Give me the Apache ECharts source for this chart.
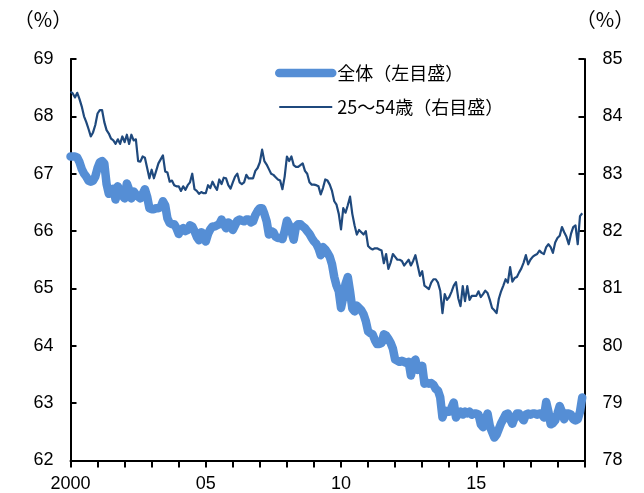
<!DOCTYPE html>
<html>
<head>
<meta charset="utf-8">
<script src="https://cdn.jsdelivr.net/npm/echarts@6/dist/echarts.min.js"></script>
<style>
  html, body { margin: 0; padding: 0; background: #fff; }
  #chart { width: 644px; height: 493px; }
</style>
</head>
<body>
<div id="chart"></div>
<script>
// Monthly series, January 2000 through December 2018 (one row per year)
const startYear = 2000;

// 全体 (left scale, %)
const overall = [
  67.30, 67.30, 67.30, 67.28, 67.20, 67.08, 67.00, 66.95, 66.88, 66.86, 66.88, 66.95,
  67.10, 67.20, 67.22, 67.18, 66.82, 66.65, 66.70, 66.74, 66.55, 66.78, 66.70, 66.62,
  66.57, 66.83, 66.72, 66.57, 66.69, 66.64, 66.60, 66.57, 66.65, 66.73, 66.60, 66.40,
  66.38, 66.38, 66.40, 66.40, 66.42, 66.52, 66.45, 66.22, 66.14, 66.12, 66.12, 66.05,
  65.95, 66.02, 66.05, 66.00, 66.02, 66.10, 66.08, 66.00, 65.90, 65.84, 65.98, 65.95,
  65.82, 65.95, 66.03, 66.08, 66.08, 66.10, 66.12, 66.20, 66.12, 66.05, 66.15, 66.12,
  66.02, 66.10, 66.18, 66.20, 66.18, 66.17, 66.20, 66.20, 66.15, 66.17, 66.28, 66.35,
  66.40, 66.40, 66.30, 66.17, 65.94, 66.00, 65.98, 65.90, 65.88, 65.88, 65.86, 66.00,
  66.18, 66.10, 66.00, 65.85, 66.08, 66.12, 66.12, 66.08, 66.05, 66.00, 65.95, 65.88,
  65.82, 65.78, 65.70, 65.58, 65.72, 65.68, 65.62, 65.55, 65.42, 65.20, 65.05, 64.95,
  64.66, 64.85, 65.08, 65.20, 64.95, 64.65, 64.60, 64.70, 64.66, 64.62, 64.55, 64.43,
  64.25, 64.22, 64.20, 64.10, 64.03, 64.03, 64.05, 64.20, 64.18, 64.12, 64.05, 63.95,
  63.76, 63.74, 63.72, 63.74, 63.72, 63.70, 63.72, 63.48, 63.70, 63.76, 63.58, 63.62,
  63.65, 63.34, 63.36, 63.34, 63.35, 63.32, 63.25, 63.22, 63.10, 62.75, 62.87, 62.85,
  62.85, 62.92, 63.01, 62.75, 62.82, 62.85, 62.80, 62.85, 62.82, 62.85, 62.80, 62.82,
  62.82, 62.80, 62.63, 62.58, 62.70, 62.82, 62.60, 62.50, 62.40, 62.45, 62.55, 62.65,
  62.72, 62.80, 62.82, 62.72, 62.64, 62.75, 62.82, 62.82, 62.75, 62.70, 62.80, 62.82,
  62.80, 62.82, 62.82, 62.80, 62.82, 62.82, 62.75, 63.02, 62.85, 62.63, 62.65, 62.70,
  62.82, 62.95, 62.85, 62.72, 62.82, 62.82, 62.80, 62.72, 62.70, 62.72, 62.85, 63.10
];

// 25～54歳 (right scale, %)
const prime = [
  84.43, 84.40, 84.33, 84.41, 84.30, 84.17, 84.00, 83.90, 83.78, 83.65, 83.72, 83.85,
  84.05, 84.11, 84.11, 83.90, 83.76, 83.70, 83.61, 83.58, 83.52, 83.60, 83.52, 83.65,
  83.55, 83.68, 83.52, 83.68, 83.58, 83.60, 83.22, 83.21, 83.30, 83.28, 83.10, 82.92,
  83.07, 82.92, 83.05, 83.18, 83.25, 83.32, 83.04, 83.02, 82.86, 82.88, 82.80, 82.78,
  82.78, 82.70, 82.78, 82.72, 82.80, 82.85, 83.00, 82.73, 82.70, 82.65, 82.68, 82.66,
  82.66, 82.80, 82.75, 82.86, 82.78, 82.72, 82.90, 82.82, 82.93, 82.92, 82.80, 82.74,
  82.85, 82.95, 83.00, 82.85, 82.82, 82.85, 82.98, 82.92, 82.92, 82.92, 83.05, 83.10,
  83.20, 83.42, 83.22, 83.16, 83.08, 83.00, 82.98, 82.94, 82.90, 82.88, 82.73, 82.95,
  83.30, 83.22, 83.30, 83.15, 83.12, 83.12, 83.15, 83.18, 83.05, 83.00, 82.85, 82.81,
  82.81, 82.80, 82.78, 82.64, 82.75, 82.90, 82.88, 82.81, 82.70, 82.52, 82.46, 82.30,
  82.03, 82.40, 82.32, 82.45, 82.60, 82.30, 82.10, 81.94, 82.02, 81.98, 81.94, 82.00,
  81.74, 81.70, 81.68, 81.70, 81.70, 81.68, 81.66, 81.44, 81.60, 81.34, 81.45, 81.60,
  81.55, 81.50, 81.50, 81.48, 81.40, 81.45, 81.50, 81.40, 81.48, 81.58, 81.40, 81.22,
  81.30, 81.05, 81.02, 80.99, 81.10, 81.16, 81.16, 81.10, 80.96, 80.57, 80.90, 80.80,
  80.85, 80.94, 81.05, 81.11, 80.83, 80.69, 81.04, 80.78, 81.04, 80.80, 80.87, 80.87,
  80.87, 80.95, 80.85, 80.90, 80.96, 80.92, 80.80, 80.66, 80.62, 80.57, 80.82, 80.95,
  81.05, 81.16, 81.10, 81.37, 81.12, 81.18, 81.20, 81.28, 81.35, 81.45, 81.58, 81.42,
  81.50, 81.55, 81.58, 81.60, 81.66, 81.62, 81.60, 81.72, 81.77, 81.72, 81.62, 81.80,
  81.88, 81.92, 82.07, 81.98, 81.90, 81.77, 81.95, 82.07, 82.10, 81.77, 82.26, 82.31
];

const seriesNames = ['全体（左目盛）', '25～54歳（右目盛）'];
const unitLabel = '（%）';
const leftTicks = { min: 62, max: 69, step: 1 };
const rightTicks = { min: 78, max: 85, step: 1 };
const yearRange = { min: 2000, max: 2019, step: 1 };

const toPoints = arr => arr.map((v, i) => [startYear + i / 12, v]);

const digitFont = '"Liberation Sans", Arial, sans-serif';
const cjkFont = '"Noto Sans CJK JP", "Liberation Sans", sans-serif';
const lightBlue = '#558ED5';
const navy = '#1F497D';
const noMarker = { color: 'rgba(0,0,0,0)', borderWidth: 0 };

const chart = echarts.init(document.getElementById('chart'), null, { renderer: 'canvas' });

chart.setOption({
  animation: false,
  backgroundColor: '#fff',
  grid: { left: 70.5, right: 59.5, top: 59, bottom: 32.5, containLabel: false, outerBoundsMode: 'none' },
  legend: {
    orient: 'vertical',
    left: 275,
    top: 63,
    padding: 0,
    itemWidth: 53,
    itemHeight: 14,
    itemGap: 14,
    textStyle: { fontFamily: cjkFont, fontSize: 18, color: '#000', lineHeight: 20 },
    data: [
      { name: seriesNames[0], itemStyle: noMarker, lineStyle: { width: 8.5, cap: 'round' } },
      { name: seriesNames[1], itemStyle: noMarker, lineStyle: { width: 2.2 } }
    ]
  },
  graphic: [
    { type: 'text', x: 43, y: 19, style: { text: unitLabel, font: '20px ' + cjkFont, fill: '#000', align: 'center', verticalAlign: 'middle' } },
    { type: 'text', x: 605, y: 19, style: { text: unitLabel, font: '20px ' + cjkFont, fill: '#000', align: 'center', verticalAlign: 'middle' } }
  ],
  xAxis: {
    type: 'value',
    min: yearRange.min,
    max: yearRange.max,
    interval: yearRange.step,
    splitLine: { show: false },
    axisLine: { lineStyle: { color: '#000', width: 2 } },
    axisTick: { inside: false, length: 7, lineStyle: { color: '#000', width: 2 } },
    axisLabel: {
      margin: 15,
      color: '#000',
      fontFamily: digitFont,
      fontSize: 18,
      formatter: v => v === yearRange.min ? String(v) : (v % 5 === 0 && v < yearRange.max ? String(v).slice(2) : '')
    }
  },
  yAxis: [
    {
      type: 'value',
      position: 'left',
      min: leftTicks.min,
      max: leftTicks.max,
      interval: leftTicks.step,
      splitLine: { show: false },
      axisLine: { show: true, lineStyle: { color: '#000', width: 2 } },
      axisTick: { show: true, inside: true, length: 6, lineStyle: { color: '#000', width: 2 } },
      axisLabel: { margin: 17, color: '#000', fontFamily: digitFont, fontSize: 18 }
    },
    {
      type: 'value',
      position: 'right',
      min: rightTicks.min,
      max: rightTicks.max,
      interval: rightTicks.step,
      splitLine: { show: false },
      axisLine: { show: true, lineStyle: { color: '#000', width: 2 } },
      axisTick: { show: true, inside: true, length: 6, lineStyle: { color: '#000', width: 2 } },
      axisLabel: { margin: 18, color: '#000', fontFamily: digitFont, fontSize: 18 }
    }
  ],
  series: [
    {
      name: seriesNames[0],
      type: 'line',
      yAxisIndex: 0,
      data: toPoints(overall),
      showSymbol: false,
      symbol: 'none',
      color: lightBlue,
      lineStyle: { color: lightBlue, width: 8.5, cap: 'round', join: 'round' },
      z: 2
    },
    {
      name: seriesNames[1],
      type: 'line',
      yAxisIndex: 1,
      data: toPoints(prime),
      showSymbol: false,
      symbol: 'none',
      color: navy,
      lineStyle: { color: navy, width: 2.2, join: 'round' },
      z: 3
    }
  ]
});
</script>
</body>
</html>
